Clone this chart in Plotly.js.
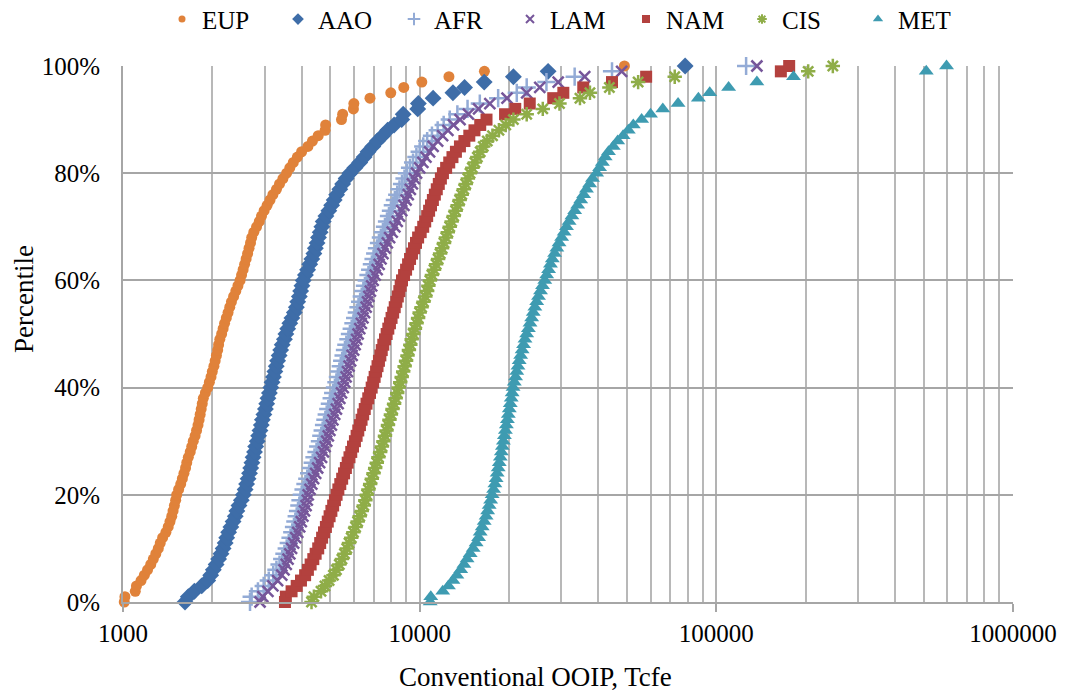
<!DOCTYPE html>
<html>
<head>
<meta charset="utf-8">
<script src="https://cdn.plot.ly/plotly-3.0.1.min.js"></script>
<style>
  html, body { margin: 0; padding: 0; background: #fff; }
  #chart { width: 1067px; height: 693px; }
</style>
</head>
<body>
<div id="chart"></div>
<script>
// Cumulative percentile of conventional OOIP by region (Tcfe), one point per percent.
const percentile = [
  0, 1, 2, 3, 4, 5, 6, 7, 8, 9,
  10, 11, 12, 13, 14, 15, 16, 17, 18, 19,
  20, 21, 22, 23, 24, 25, 26, 27, 28, 29,
  30, 31, 32, 33, 34, 35, 36, 37, 38, 39,
  40, 41, 42, 43, 44, 45, 46, 47, 48, 49,
  50, 51, 52, 53, 54, 55, 56, 57, 58, 59,
  60, 61, 62, 63, 64, 65, 66, 67, 68, 69,
  70, 71, 72, 73, 74, 75, 76, 77, 78, 79,
  80, 81, 82, 83, 84, 85, 86, 87, 88, 89,
  90, 91, 92, 93, 94, 95, 96, 97, 98, 99,
  100
];

const seriesNames = ['EUP', 'AAO', 'AFR', 'LAM', 'NAM', 'CIS', 'MET'];

const eup = [
  1010, 1015, 1100, 1110, 1150, 1180, 1210, 1240, 1265, 1290,
  1315, 1335, 1360, 1395, 1420, 1440, 1460, 1475, 1490, 1505,
  1517, 1540, 1565, 1585, 1605, 1625, 1640, 1660, 1685, 1705,
  1725, 1750, 1770, 1790, 1805, 1820, 1835, 1850, 1865, 1895,
  1930, 1955, 1980, 2000, 2025, 2045, 2065, 2085, 2100, 2120,
  2150, 2175, 2200, 2230, 2260, 2290, 2320, 2360, 2400, 2440,
  2480, 2510, 2540, 2570, 2600, 2630, 2660, 2690, 2715, 2760,
  2820, 2880, 2930, 2990, 3060, 3130, 3200, 3290, 3370, 3460,
  3560, 3650, 3750, 3870, 4000, 4200, 4350, 4550, 4800, 4820,
  5450, 5500, 5980, 6000, 6800, 7990, 8840, 10170, 12550, 16530,
  49000
];

const aao = [
  1618, 1660, 1740, 1842, 1930, 1975, 2016, 2060, 2100, 2140,
  2175, 2210, 2236, 2270, 2310, 2350, 2390, 2420, 2460, 2505,
  2546, 2580, 2610, 2640, 2670, 2695, 2720, 2745, 2775, 2800,
  2835, 2865, 2895, 2925, 2950, 2985, 3020, 3050, 3080, 3115,
  3150, 3180, 3215, 3250, 3285, 3320, 3360, 3400, 3440, 3500,
  3540, 3590, 3650, 3710, 3780, 3840, 3880, 3930, 3970, 4010,
  4050, 4120, 4190, 4260, 4330, 4400, 4450, 4510, 4560, 4620,
  4680, 4730, 4830, 4940, 5050, 5150, 5250, 5380, 5500, 5650,
  5820, 6050, 6280, 6500, 6700, 6950, 7200, 7500, 7800, 8200,
  8700, 8800, 9850, 9900, 11100, 12950, 14170, 16500, 20700, 27100,
  78500
];

const afr = [
  2680, 2714, 2850, 2980, 3100, 3210, 3290, 3370, 3440, 3500,
  3563, 3620, 3670, 3720, 3770, 3810, 3850, 3890, 3930, 3965,
  4003, 4060, 4120, 4180, 4240, 4300, 4360, 4420, 4490, 4550,
  4610, 4660, 4710, 4760, 4810, 4860, 4920, 4980, 5050, 5110,
  5180, 5240, 5300, 5360, 5420, 5480, 5540, 5600, 5660, 5750,
  5820, 5900, 5980, 6060, 6140, 6220, 6300, 6380, 6460, 6540,
  6630, 6720, 6810, 6900, 6990, 7080, 7180, 7290, 7400, 7520,
  7640, 7760, 7880, 8000, 8120, 8250, 8400, 8550, 8720, 8890,
  9060, 9280, 9500, 9750, 10000, 10280, 10600, 11000, 11500, 12050,
  12630, 13400, 14500, 15950, 18390, 21250, 22950, 26750, 33300, 44500,
  126000
];

const lam = [
  2897, 2960, 3080, 3200, 3320, 3430, 3490, 3550, 3600, 3650,
  3700, 3760, 3820, 3880, 3940, 3990, 4040, 4090, 4140, 4180,
  4210, 4270, 4330, 4390, 4460, 4530, 4600, 4670, 4740, 4800,
  4860, 4920, 4980, 5040, 5100, 5170, 5240, 5310, 5380, 5450,
  5527, 5590, 5650, 5710, 5780, 5850, 5920, 5990, 6060, 6130,
  6200, 6280, 6360, 6440, 6520, 6600, 6670, 6740, 6820, 6890,
  6970, 7080, 7190, 7300, 7410, 7520, 7650, 7780, 7920, 8080,
  8250, 8400, 8550, 8700, 8850, 9000, 9150, 9300, 9450, 9600,
  9760, 10000, 10250, 10500, 10800, 11100, 11500, 11950, 12450, 13000,
  13680, 14600, 15800, 17240, 19700, 22950, 25400, 29300, 36000, 47950,
  137000
];

const nam = [
  3515, 3540, 3700, 3850, 3980, 4110, 4200, 4290, 4380, 4460,
  4550, 4620, 4690, 4760, 4830, 4900, 4970, 5040, 5110, 5180,
  5247, 5320, 5400, 5480, 5560, 5640, 5720, 5800, 5880, 5960,
  6050, 6130, 6210, 6290, 6370, 6450, 6530, 6620, 6710, 6800,
  6890, 6970, 7050, 7130, 7210, 7290, 7370, 7450, 7540, 7640,
  7740, 7840, 7940, 8040, 8140, 8240, 8340, 8440, 8540, 8630,
  8720, 8860, 9000, 9140, 9280, 9420, 9570, 9720, 9880, 10080,
  10280, 10440, 10600, 10760, 10920, 11080, 11250, 11420, 11600, 11790,
  11980, 12280, 12580, 12900, 13250, 13670, 14150, 14700, 15300, 16000,
  16800, 19400, 21000, 23500, 28200, 30500, 35600, 44500, 58000, 165000,
  176000
];

const cis = [
  4320, 4400, 4650, 4795, 4950, 5120, 5240, 5360, 5470, 5580,
  5680, 5780, 5880, 5980, 6080, 6180, 6280, 6380, 6480, 6560,
  6630, 6720, 6810, 6900, 6990, 7080, 7170, 7260, 7360, 7460,
  7550, 7640, 7730, 7820, 7910, 8000, 8100, 8200, 8300, 8400,
  8500, 8600, 8700, 8800, 8900, 9000, 9100, 9200, 9300, 9400,
  9520, 9640, 9760, 9880, 10000, 10150, 10300, 10450, 10600, 10700,
  10830, 11000, 11180, 11360, 11540, 11720, 11900, 12080, 12260, 12440,
  12630, 12820, 13020, 13220, 13430, 13640, 13860, 14080, 14300, 14540,
  14780, 15050, 15350, 15650, 16000, 16380, 16900, 17600, 18500, 19500,
  20700, 22950, 26000, 29600, 34700, 37500, 43600, 54500, 72400, 204000,
  247000
];

const met = [
  10850, 10900, 11960, 12500, 12950, 13350, 13750, 14100, 14450, 14800,
  15150, 15500, 15800, 16000, 16250, 16500, 16750, 16950, 17150, 17350,
  17550, 17750, 17930, 18100, 18250, 18400, 18550, 18700, 18850, 19000,
  19150, 19300, 19450, 19600, 19750, 19900, 20050, 20200, 20350, 20500,
  20650, 20850, 21050, 21250, 21450, 21650, 21900, 22150, 22400, 22650,
  22950, 23250, 23550, 23850, 24150, 24450, 24800, 25150, 25550, 25950,
  26400, 26800, 27200, 27600, 28000, 28500, 29000, 29500, 30100, 30700,
  31260, 31900, 32600, 33300, 34100, 34900, 35700, 36500, 37400, 38250,
  39500, 40400, 41300, 42200, 43300, 44950, 46500, 48500, 50500, 52500,
  56000, 60000, 66000, 74300, 87000, 95000, 110000, 137000, 182000, 510000,
  597000
];

const seriesValues = [eup, aao, afr, lam, nam, cis, met];

// Marker look per region
const markerSymbols = ['circle', 'diamond', 'cross-thin-open', 'x-thin-open', 'square', 'asterisk-open', 'triangle-up'];
const markerColors = ['#E0823A', '#3E6DA8', '#93ABD6', '#76569A', '#B3413E', '#8FAD48', '#3E9BB1'];
const markerSizes = [11, 13, 13, 11, 12, 12, 13];
const legendSizes = [7, 9, 9, 8, 8, 8, 9];
const lineSymbols = { 'cross-thin-open': true, 'x-thin-open': true, 'asterisk-open': true };

function markerFor(i, size, lw) {
  const sym = markerSymbols[i];
  const col = markerColors[i];
  return {
    symbol: sym,
    color: col,
    size: size,
    line: lineSymbols[sym] ? { width: lw, color: col } : { width: 0 }
  };
}

// Point clouds (no legend entries of their own)
const dataTraces = seriesNames.map((name, i) => ({
  type: 'scatter',
  mode: 'markers',
  name: name,
  legendgroup: name,
  showlegend: false,
  x: seriesValues[i],
  y: percentile,
  marker: markerFor(i, markerSizes[i], 2.5),
  cliponaxis: false,
  hoverinfo: 'x+y+name'
}));

// Legend entries with the smaller key symbols
const legendTraces = seriesNames.map((name, i) => ({
  type: 'scatter',
  mode: 'markers',
  name: name,
  legendgroup: name,
  showlegend: true,
  x: [null],
  y: [null],
  marker: markerFor(i, legendSizes[i], 2),
  hoverinfo: 'skip'
}));

// Decade labels on the x axis, gridlines at every unit step inside a decade
const decadeVals = [1000, 10000, 100000, 1000000];
const decadeText = ['1000', '10000', '100000', '1000000'];
const unitGrid = [
  2000, 3000, 4000, 5000, 6000, 7000, 8000, 9000,
  20000, 30000, 40000, 50000, 60000, 70000, 80000, 90000,
  200000, 300000, 400000, 500000, 600000, 700000, 800000, 900000
];
const yTickVals = [0, 20, 40, 60, 80, 100];
const yTickText = ['0%', '20%', '40%', '60%', '80%', '100%'];

const fontFamily = 'Liberation Serif, Times New Roman, serif';

const layout = {
  width: 1067,
  height: 693,
  margin: { l: 123, r: 54, t: 66, b: 91, autoexpand: false },
  paper_bgcolor: '#ffffff',
  plot_bgcolor: '#ffffff',
  font: { family: fontFamily, size: 25, color: '#000000' },
  showlegend: true,
  legend: {
    orientation: 'h',
    x: 0.5,
    xanchor: 'center',
    y: 1.13,
    yanchor: 'top',
    entrywidth: 71,
    traceorder: 'normal',
    font: { family: fontFamily, size: 25, color: '#000000' },
    bgcolor: 'rgba(0,0,0,0)'
  },
  xaxis: {
    type: 'log',
    range: [3, 6],
    tickmode: 'array',
    tickvals: decadeVals,
    ticktext: decadeText,
    ticks: 'outside',
    ticklen: 8,
    tickwidth: 2,
    tickcolor: '#a6a6a6',
    showgrid: true,
    gridcolor: '#b3b3b3',
    gridwidth: 2,
    minor: {
      tickmode: 'array',
      tickvals: unitGrid,
      showgrid: true,
      gridcolor: '#b8b8b8',
      gridwidth: 2,
      ticks: ''
    },
    showline: true,
    linecolor: '#a6a6a6',
    linewidth: 2,
    zeroline: false,
    tickfont: { family: fontFamily, size: 25, color: '#000000' }
  },
  yaxis: {
    range: [0, 100],
    tickmode: 'array',
    tickvals: yTickVals,
    ticktext: yTickText,
    ticks: '',
    ticklabelstandoff: 16,
    showgrid: true,
    gridcolor: '#a6a6a6',
    gridwidth: 2,
    showline: true,
    linecolor: '#a6a6a6',
    linewidth: 2,
    zeroline: false,
    tickfont: { family: fontFamily, size: 25, color: '#000000' }
  },
  annotations: [
    {
      text: 'Conventional OOIP, Tcfe',
      xref: 'paper', yref: 'paper',
      x: (535 - 123) / 890, y: -(677 - 602) / 536,
      xanchor: 'center', yanchor: 'middle',
      showarrow: false,
      font: { family: fontFamily, size: 27, color: '#000000' }
    },
    {
      text: 'Percentile',
      xref: 'paper', yref: 'paper',
      x: -(123 - 24) / 890, y: (602 - 299) / 536,
      xanchor: 'center', yanchor: 'middle',
      textangle: -90,
      showarrow: false,
      font: { family: fontFamily, size: 27, color: '#000000' }
    }
  ]
};

Plotly.newPlot('chart', dataTraces.concat(legendTraces), layout, { displayModeBar: false, staticPlot: true });
</script>
</body>
</html>
